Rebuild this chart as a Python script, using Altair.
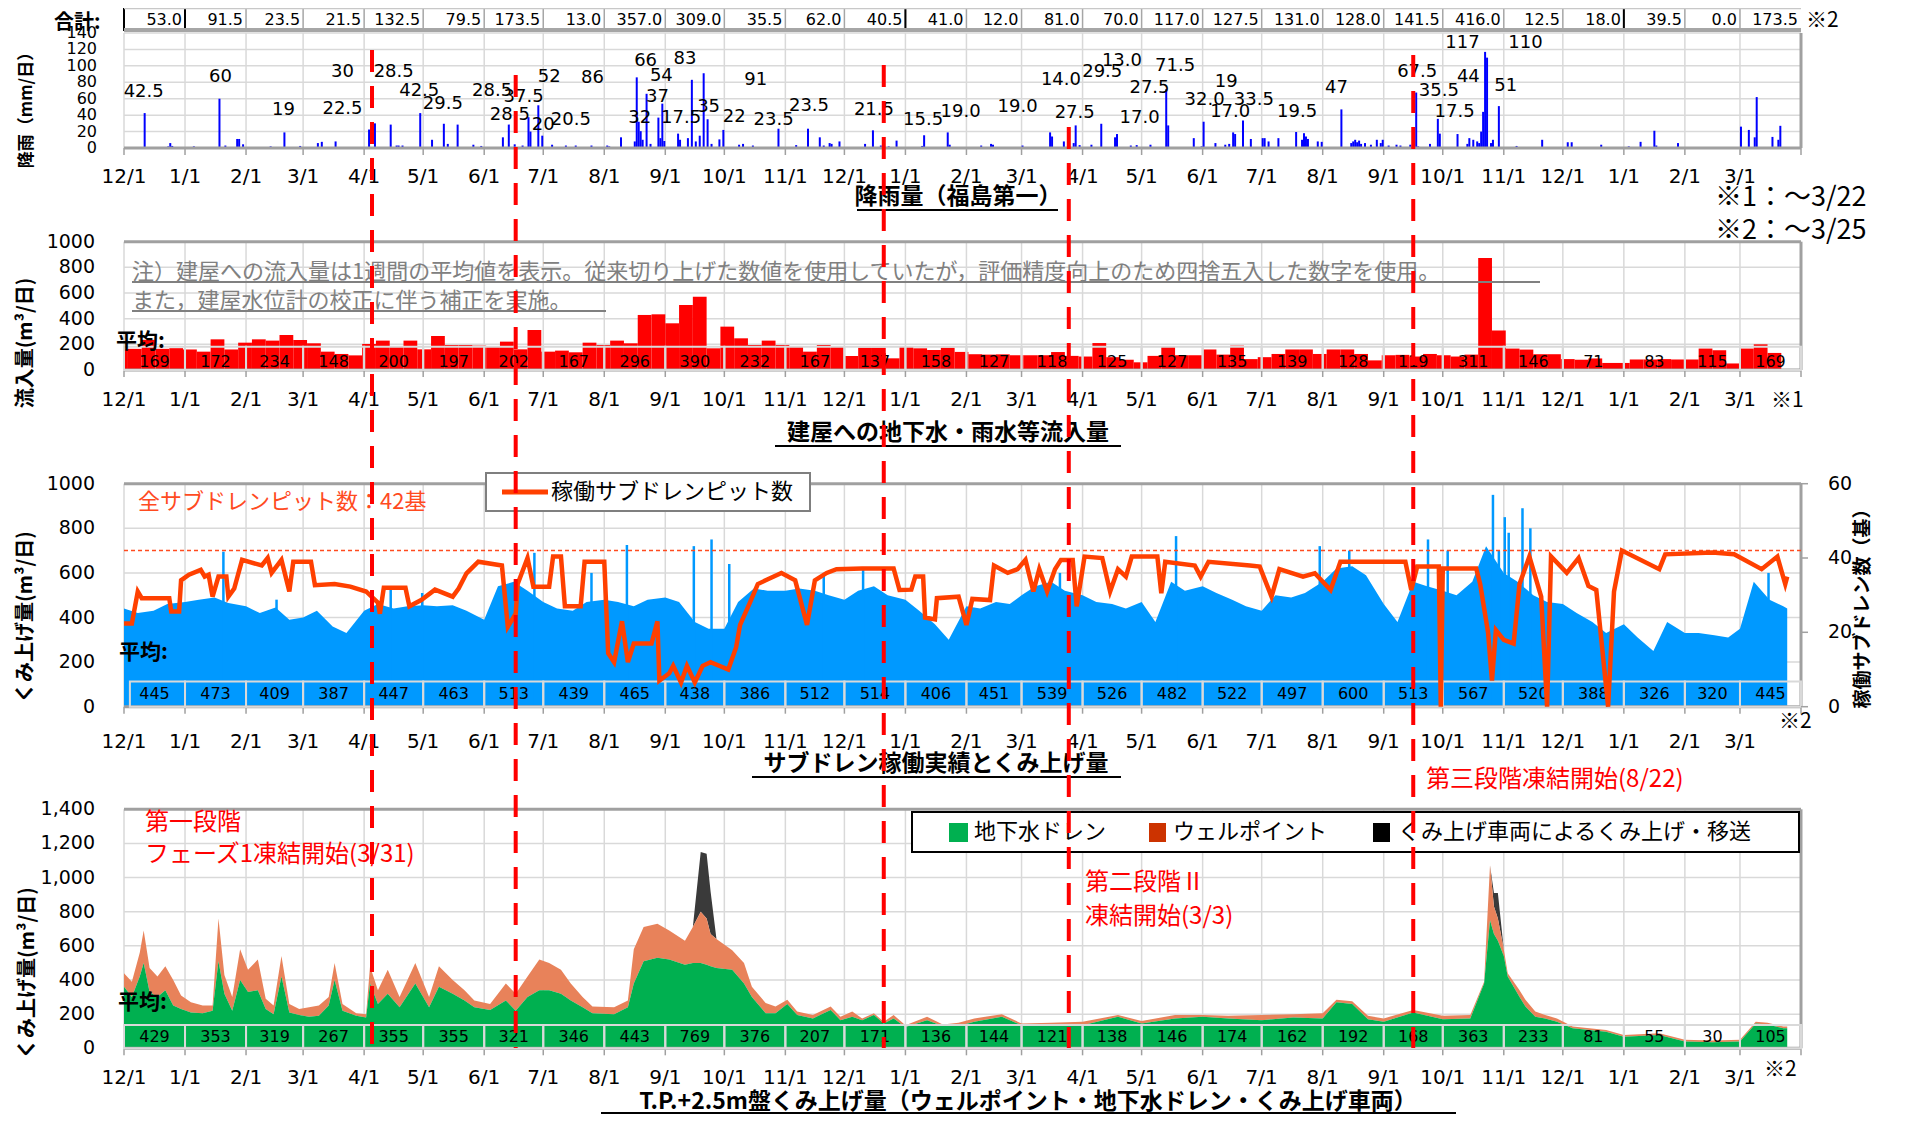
import altair as alt
import pandas as pd

START = pd.Timestamp("2015-12-01")
END_DAY = 852
W, H = 1677, 1107
JP = "Noto Sans CJK JP"
NUM = "DejaVu Sans"


def dn(s):
    return (pd.Timestamp(s) - START).days


# ------------------------------------------------------------------ data
month_labels = ["12/1", "1/1", "2/1", "3/1", "4/1", "5/1", "6/1", "7/1", "8/1", "9/1", "10/1", "11/1",
                "12/1", "1/1", "2/1", "3/1", "4/1", "5/1", "6/1", "7/1", "8/1", "9/1", "10/1", "11/1",
                "12/1", "1/1", "2/1", "3/1"]
month_starts = pd.date_range("2015-12-01", periods=28, freq="MS")

rain_month_totals = [53.0, 91.5, 23.5, 21.5, 132.5, 79.5, 173.5, 13.0, 357.0, 309.0, 35.5, 62.0, 40.5, 41.0,
                     12.0, 81.0, 70.0, 117.0, 127.5, 131.0, 128.0, 141.5, 416.0, 12.5, 18.0, 39.5, 0.0, 173.5]
inflow_month_avg = [169, 172, 234, 148, 200, 197, 202, 167, 296, 390, 232, 167, 137, 158,
                    127, 118, 125, 127, 135, 139, 128, 119, 311, 146, 71, 83, 115, 169]
subdrain_month_avg = [445, 473, 409, 387, 447, 463, 513, 439, 465, 438, 386, 512, 514, 406,
                      451, 539, 526, 482, 522, 497, 600, 513, 567, 520, 388, 326, 320, 445]
tp_month_avg = [429, 353, 319, 267, 355, 355, 321, 346, 443, 769, 376, 207, 171, 136,
                144, 121, 138, 146, 174, 162, 192, 168, 363, 233, 81, 55, 30, 105]

rain_dates = [
    "2015-12-11", "2015-12-23", "2015-12-24", "2015-12-25",
    "2016-01-05", "2016-01-18", "2016-01-21", "2016-01-27", "2016-01-28", "2016-01-30",
    "2016-02-13", "2016-02-20", "2016-02-28",
    "2016-03-08", "2016-03-10", "2016-03-17",
    "2016-04-03", "2016-04-06", "2016-04-14", "2016-04-17", "2016-04-18", "2016-04-20", "2016-04-29",
    "2016-05-05", "2016-05-11", "2016-05-13", "2016-05-18", "2016-05-26", "2016-05-30",
    "2016-06-10", "2016-06-13", "2016-06-16", "2016-06-20", "2016-06-23", "2016-06-24", "2016-06-28", "2016-06-30",
    "2016-07-05", "2016-07-12", "2016-07-17", "2016-07-25",
    "2016-08-02", "2016-08-03", "2016-08-09", "2016-08-16", "2016-08-17", "2016-08-18", "2016-08-19",
    "2016-08-20", "2016-08-22", "2016-08-24", "2016-08-28", "2016-08-29", "2016-08-30", "2016-08-31",
    "2016-09-07", "2016-09-08", "2016-09-12", "2016-09-14", "2016-09-16", "2016-09-18", "2016-09-20",
    "2016-09-22", "2016-09-24", "2016-09-28", "2016-09-30",
    "2016-10-08", "2016-10-10", "2016-10-15", "2016-10-28",
    "2016-11-06", "2016-11-12", "2016-11-18", "2016-11-20", "2016-11-23", "2016-11-24", "2016-11-28",
    "2016-12-11", "2016-12-15", "2016-12-19", "2016-12-23", "2016-12-27",
    "2017-01-09", "2017-01-10", "2017-01-22", "2017-01-23",
    "2017-02-08", "2017-02-13", "2017-02-14",
    "2017-03-01", "2017-03-15", "2017-03-16", "2017-03-22", "2017-03-28", "2017-03-27", "2017-03-30",
    "2017-04-05", "2017-04-10", "2017-04-17", "2017-04-18", "2017-04-25", "2017-04-28",
    "2017-05-05", "2017-05-13", "2017-05-14", "2017-05-27", "2017-05-31",
    "2017-06-01", "2017-06-07", "2017-06-12", "2017-06-14", "2017-06-16", "2017-06-17", "2017-06-21", "2017-06-25",
    "2017-07-01", "2017-07-02", "2017-07-04", "2017-07-09", "2017-07-18", "2017-07-21", "2017-07-22",
    "2017-07-23", "2017-07-24", "2017-07-29", "2017-07-31",
    "2017-08-10", "2017-08-15", "2017-08-16", "2017-08-17", "2017-08-18", "2017-08-19", "2017-08-20",
    "2017-08-22", "2017-08-25", "2017-08-28", "2017-08-30", "2017-08-31",
    "2017-09-03", "2017-09-07", "2017-09-09", "2017-09-14", "2017-09-17", "2017-09-18", "2017-09-24",
    "2017-09-28", "2017-09-29",
    "2017-10-08", "2017-10-13", "2017-10-14", "2017-10-16", "2017-10-18", "2017-10-19", "2017-10-20",
    "2017-10-21", "2017-10-22", "2017-10-23", "2017-10-25", "2017-10-26", "2017-10-29",
    "2017-11-07", "2017-11-20",
    "2017-12-03", "2017-12-05", "2017-12-20",
    "2018-01-03", "2018-01-09", "2018-01-16", "2018-01-17", "2018-01-28",
    "2018-03-01", "2018-03-05", "2018-03-08", "2018-03-09", "2018-03-17", "2018-03-20", "2018-03-21",
]
rain_mm = [
    42.5, 2, 6, 2.5,
    2, 60, 3, 11, 11, 4.5,
    2, 19, 2.5,
    6, 7.5, 8,
    22.5, 30, 28.5, 3, 3, 3, 42.5,
    10, 29.5, 5, 28.5, 4, 2.5,
    13, 28.5, 4.5, 3, 37.5, 20, 52, 15,
    4, 3, 3, 3,
    3, 2, 13, 8, 86, 32, 20.5,
    10, 66, 5, 37, 12, 54, 8.5,
    17.5, 10, 12, 83, 8, 15, 91,
    35, 5, 10.5, 22,
    4, 5, 3, 23.5,
    3.5, 23.5, 13, 3, 6, 5, 8,
    5, 21.5, 3, 2, 9,
    2.5, 15.5, 19, 4,
    3, 5, 4,
    3, 19, 14, 8, 27.5, 6, 3.5,
    4, 29.5, 13, 17, 3, 3.5,
    4, 71.5, 27.5, 12, 2,
    32, 6, 4, 5, 19, 17, 33.5, 11,
    12, 12, 8, 12, 19.5, 10, 18,
    14, 11, 8, 7.5,
    47, 6, 8, 10, 7, 9, 5,
    6, 4, 10, 6, 10,
    3, 4, 3, 4, 67.5, 2, 5,
    35.5, 17.5,
    17, 5, 12, 10, 8, 6, 20,
    44, 117, 110, 6, 10, 51,
    2.5, 10,
    7, 7, 4,
    2, 7.5, 21, 3, 6,
    26, 22, 13, 62, 13.5, 10, 27,
]

rain_label_text = ["42.5", "60", "19", "22.5", "30", "28.5", "42.5", "29.5", "28.5", "37.5", "52", "28.5",
                   "20", "20.5", "86", "66", "83", "54", "37", "32", "17.5", "35", "91", "22", "23.5", "23.5",
                   "21.5", "15.5", "19.0", "19.0", "14.0", "27.5", "29.5", "13.0", "17.0", "27.5", "71.5",
                   "32.0", "19", "17.0", "33.5", "19.5", "47", "67.5", "35.5", "17.5", "44", "117", "110", "51"]
rain_label_date = ["2015-12-11", "2016-01-19", "2016-02-20", "2016-03-21", "2016-03-21", "2016-04-16",
                   "2016-04-29", "2016-05-11", "2016-06-05", "2016-06-21", "2016-07-04", "2016-06-14",
                   "2016-07-01", "2016-07-15", "2016-07-26", "2016-08-22", "2016-09-11", "2016-08-30",
                   "2016-08-28", "2016-08-19", "2016-09-09", "2016-09-23", "2016-10-17", "2016-10-06",
                   "2016-10-26", "2016-11-13", "2016-12-16", "2017-01-10", "2017-01-29", "2017-02-27",
                   "2017-03-21", "2017-03-28", "2017-04-11", "2017-04-21", "2017-04-30", "2017-05-05",
                   "2017-05-18", "2017-06-02", "2017-06-13", "2017-06-15", "2017-06-27", "2017-07-19",
                   "2017-08-08", "2017-09-18", "2017-09-29", "2017-10-07", "2017-10-14", "2017-10-11",
                   "2017-11-12", "2017-11-02"]
rain_label_mm = [68, 86, 46, 47, 93, 93, 70, 54, 70, 62, 87, 40, 28, 34, 85, 106, 108, 88, 62, 36, 36, 50, 83,
                 38, 34, 51, 46, 34, 44, 50, 83, 43, 93, 106, 36, 73, 100, 58, 80, 44, 58, 44, 73, 93, 70, 44,
                 87, 128, 128, 76]

# weekly inflow (weeks ending Thursdays 2015-12-03 ... 2018-03-22)
inflow_weekly = [
    160, 165, 235, 165, 170,
    160, 143, 239, 160,
    213, 239, 229, 273,
    234, 208, 143, 125, 114,
    203, 229, 187, 229,
    161, 265, 195, 195,
    190, 182, 221, 161, 312,
    143, 151, 138, 213,
    195, 229, 208, 429,
    434, 364, 506, 571, 169,
    338, 247, 195, 229,
    195, 182, 143, 195,
    182, 109, 174, 174, 91,
    182, 169, 156, 174,
    141, 123, 120, 122,
    115, 115, 115, 140, 110,
    105, 210, 100, 80,
    60, 110, 180, 115,
    115, 160, 120, 190, 85,
    100, 125, 160, 160,
    125, 160, 160, 125, 75,
    115, 118, 105, 125,
    115, 105, 120, 872,
    308, 167, 159, 123, 123,
    85, 80, 90, 55,
    55, 82, 82, 85,
    82, 82, 167, 154,
    51, 167, 200, 133,
]

# sub-drain pumping, read at day 1, 8, 16, 23 of every month (+ 3/25/2018)
subdrain_values = [
    440, 420, 430, 460,
    470, 480, 490, 465,
    450, 420, 445, 390,
    400, 430, 360, 330,
    430, 460, 440, 450,
    455, 450, 455, 430,
    390, 540, 560, 520,
    470, 440, 430, 470,
    480, 470, 450, 480,
    490, 470, 380, 350,
    350, 470, 530, 520,
    520, 530, 520, 500,
    480, 520, 540, 500,
    480, 430, 370, 300,
    450, 440, 470, 460,
    500, 540, 560, 520,
    500, 470, 460, 440,
    470, 380, 560, 520,
    540, 510, 480, 450,
    430, 500, 490, 510,
    560, 620, 630, 590,
    460, 380, 560, 540,
    520, 500, 560, 720,
    600, 560, 500, 470,
    460, 420, 380, 330,
    370, 310, 250, 380,
    330, 330, 320, 310,
    350, 560, 480, 450,
    440,
]
subdrain_spike_dates = ["2016-01-20", "2016-02-16", "2016-04-14", "2016-04-30", "2016-06-26", "2016-07-25",
                        "2016-08-12", "2016-09-15", "2016-09-24", "2016-10-03", "2016-11-20", "2016-12-10",
                        "2017-03-20", "2017-05-18", "2017-07-30", "2017-08-14", "2017-09-23", "2017-10-03",
                        "2017-10-26", "2017-10-29", "2017-11-01", "2017-11-03", "2017-11-10", "2017-11-14",
                        "2018-03-15"]
subdrain_spike_values = [695, 480, 530, 510, 690, 600, 725, 720, 750, 640, 600, 620,
                         600, 765, 720, 700, 750, 700, 950, 700, 850, 780, 890, 800, 600]

pit_dates = [
    "2015-12-01", "2015-12-05", "2015-12-08", "2015-12-10", "2015-12-24", "2015-12-25", "2015-12-29",
    "2015-12-30", "2016-01-03", "2016-01-09", "2016-01-11", "2016-01-13", "2016-01-15", "2016-01-18",
    "2016-01-22", "2016-01-23", "2016-01-26", "2016-01-30", "2016-02-09", "2016-02-12", "2016-02-14",
    "2016-02-19", "2016-02-23", "2016-02-25", "2016-03-05", "2016-03-07", "2016-03-17", "2016-03-25",
    "2016-04-02", "2016-04-08", "2016-04-09", "2016-04-11", "2016-04-22", "2016-04-24", "2016-04-30",
    "2016-05-07", "2016-05-16", "2016-05-19", "2016-05-23", "2016-05-29", "2016-06-10", "2016-06-13",
    "2016-06-17", "2016-06-18", "2016-06-23", "2016-06-26", "2016-07-04", "2016-07-06", "2016-07-10",
    "2016-07-12", "2016-07-20", "2016-07-22", "2016-08-01", "2016-08-03", "2016-08-06", "2016-08-10",
    "2016-08-13", "2016-08-16", "2016-08-25", "2016-08-28", "2016-08-29", "2016-09-03", "2016-09-05",
    "2016-09-09", "2016-09-12", "2016-09-16", "2016-09-20", "2016-09-24", "2016-10-03", "2016-10-07",
    "2016-10-09", "2016-10-14", "2016-10-18", "2016-10-22", "2016-10-30", "2016-11-06", "2016-11-12",
    "2016-11-16", "2016-11-22", "2016-11-27", "2016-12-10", "2016-12-26", "2016-12-29", "2017-01-04",
    "2017-01-06", "2017-01-10", "2017-01-11", "2017-01-16", "2017-01-17", "2017-01-28", "2017-02-01",
    "2017-02-04", "2017-02-13", "2017-02-15", "2017-02-22", "2017-02-27", "2017-03-03", "2017-03-07",
    "2017-03-10", "2017-03-14", "2017-03-18", "2017-03-21", "2017-03-27", "2017-03-29", "2017-04-02",
    "2017-04-11", "2017-04-15", "2017-04-19", "2017-04-23", "2017-04-26", "2017-05-09", "2017-05-11",
    "2017-05-13", "2017-05-28", "2017-05-31", "2017-06-04", "2017-06-25", "2017-06-30", "2017-07-06",
    "2017-07-10", "2017-07-22", "2017-07-28", "2017-08-05", "2017-08-10", "2017-09-12", "2017-09-15",
    "2017-09-18", "2017-09-29", "2017-09-30", "2017-10-01", "2017-10-18", "2017-10-20", "2017-10-24",
    "2017-10-26", "2017-10-28", "2017-11-01", "2017-11-06", "2017-11-09", "2017-11-14", "2017-11-20",
    "2017-11-23", "2017-11-25", "2017-12-03", "2017-12-09", "2017-12-14", "2017-12-18", "2017-12-24",
    "2017-12-27", "2017-12-31", "2018-01-19", "2018-01-22", "2018-02-15", "2018-02-26", "2018-03-12",
    "2018-03-20", "2018-03-24", "2018-03-25",
]
pit_counts = [
    22.4, 22.4, 31, 29.2, 29.2, 25.6, 25.6,
    34, 35.5, 36.8, 35, 35.5, 29.6, 35,
    35, 29.6, 31.8, 39.5, 38, 40, 36,
    39.5, 31, 39, 39, 32.7, 33, 32.3,
    31, 28, 25, 32, 32, 27, 28.7,
    31.5, 29.6, 31.8, 35.9, 39, 38, 21.5,
    25, 33, 40, 32.3, 32.3, 40.4, 40.4,
    27, 27, 39, 39, 14.4, 12, 23,
    12, 17, 17, 23, 7, 9, 11,
    6.5, 11, 6.5, 11, 12, 10, 16,
    22, 28, 33, 34, 36, 34, 22,
    34, 36, 37, 37.2, 37.2, 31.4, 31.5,
    35, 35, 24, 23.5, 29.2, 29.6, 22,
    29, 28.7, 38, 36, 37, 39.5, 31,
    37, 31, 37, 39.5, 39.5, 27, 40.4,
    40, 31, 37, 35, 40.4, 40.4, 30.5,
    39, 38, 35, 39, 38, 37.7, 29.6,
    37, 35, 35.9, 31.4, 39, 39, 31.4,
    37.7, 37.7, 0, 37.2, 37.2, 33, 20,
    7, 20.6, 18, 17, 33, 40.4, 29.6,
    0, 40.4, 36, 40, 32.5, 31.4, 0,
    31, 42, 37, 41, 41.5, 41, 37,
    40.4, 33, 35,
]

tp_dates = [
    "2015-12-01", "2015-12-05", "2015-12-09", "2015-12-11", "2015-12-14", "2015-12-18", "2015-12-22",
    "2015-12-26", "2015-12-30", "2016-01-04", "2016-01-10", "2016-01-15", "2016-01-18", "2016-01-21",
    "2016-01-25", "2016-01-29", "2016-02-02", "2016-02-07", "2016-02-11", "2016-02-15", "2016-02-19",
    "2016-02-23", "2016-02-28", "2016-03-04", "2016-03-09", "2016-03-14", "2016-03-17", "2016-03-21",
    "2016-03-28", "2016-04-02", "2016-04-04", "2016-04-08", "2016-04-13", "2016-04-19", "2016-04-27",
    "2016-05-04", "2016-05-09", "2016-05-16", "2016-05-22", "2016-05-27", "2016-06-04", "2016-06-12",
    "2016-06-17", "2016-06-23", "2016-06-29", "2016-07-04", "2016-07-10", "2016-07-15", "2016-07-21",
    "2016-07-26", "2016-08-06", "2016-08-13", "2016-08-16", "2016-08-21", "2016-08-28", "2016-09-03",
    "2016-09-11", "2016-09-15", "2016-09-19", "2016-09-22", "2016-09-24", "2016-09-27", "2016-10-05",
    "2016-10-11", "2016-10-15", "2016-10-22", "2016-10-27", "2016-11-02", "2016-11-07", "2016-11-15",
    "2016-11-24", "2016-11-29", "2016-12-05", "2016-12-10", "2016-12-16", "2016-12-21", "2016-12-26",
    "2017-01-01", "2017-01-12", "2017-01-20", "2017-01-28", "2017-02-05", "2017-02-19", "2017-03-01",
    "2017-03-16", "2017-04-01", "2017-04-19", "2017-05-01", "2017-05-18", "2017-06-01", "2017-06-14",
    "2017-07-01", "2017-07-17", "2017-08-01", "2017-08-08", "2017-08-16", "2017-08-24", "2017-09-01",
    "2017-09-16", "2017-10-01", "2017-10-15", "2017-10-22", "2017-10-25", "2017-10-27", "2017-10-29",
    "2017-11-01", "2017-11-03", "2017-11-09", "2017-11-12", "2017-11-17", "2017-11-22", "2017-11-28",
    "2017-12-06", "2017-12-23", "2018-01-01", "2018-01-19", "2018-02-01", "2018-02-15", "2018-03-01",
    "2018-03-09", "2018-03-15", "2018-03-23", "2018-03-25",
]
tp_drain = [
    360, 300, 420, 500, 330, 300, 340, 250, 230, 210, 205, 220, 510, 320, 220, 400, 330, 340, 230, 200,
    420, 210, 195, 185, 190, 250, 400, 220, 190, 180, 380, 260, 320, 240, 380, 240, 360, 320, 280, 240,
    225, 280, 220, 300, 340, 340, 320, 280, 240, 205, 200, 240, 380, 510, 530, 520, 490, 500, 500, 490,
    480, 470, 460, 380, 300, 205, 205, 260, 195, 175, 225, 165, 185, 165, 195, 145, 175, 125, 165, 130,
    130, 155, 185, 135, 135, 135, 185, 145, 175, 185, 175, 165, 180, 175, 270, 260, 170, 155, 210, 170,
    175, 380, 750, 670, 630, 540, 420, 300, 245, 185, 175, 155, 117, 97, 68, 78, 40, 35, 40, 146,
    140, 117, 117,
]
tp_top = [  # top of the well-point (orange) stack
    440, 390, 560, 690, 470, 420, 480, 400, 310, 270, 250, 250, 760, 430, 300, 580, 460, 520, 290, 250,
    540, 260, 230, 240, 250, 300, 500, 260, 205, 200, 480, 340, 460, 300, 500, 300, 480, 400, 340, 280,
    260, 380, 320, 420, 520, 500, 460, 380, 300, 245, 240, 280, 580, 710, 730, 690, 630, 710, 800, 760,
    670, 640, 575, 500, 360, 265, 245, 285, 215, 195, 245, 185, 215, 175, 205, 155, 195, 135, 185, 140,
    150, 175, 200, 145, 150, 155, 195, 160, 195, 195, 190, 195, 200, 205, 285, 275, 190, 175, 225, 190,
    195, 390, 1072, 830, 760, 580, 440, 340, 285, 215, 195, 175, 127, 107, 78, 88, 50, 45, 50, 156,
    150, 127, 127,
]
truck_dates = ["2016-09-19", "2016-09-22", "2016-09-24", "2017-10-27", "2017-10-29"]
truck_values = [350, 380, 250, 80, 150]

freeze_dates = ["2016-04-05", "2016-06-17", "2016-12-21", "2017-03-25", "2017-09-16"]
freeze_tops = [42, 67, 57, 119, 47]

# ------------------------------------------------------------------ helpers
XS = alt.Scale(domain=[0, END_DAY], nice=False, zero=False)
RAIN = ([0, 140], [140, 25])
INF = ([0, 1000], [362, 233.7])
SUB = ([0, 1000], [698.7, 475.7])
PIT = ([0, 60], [698.7, 475.7])
TPS = ([0, 1400], [1040.3, 801.3])


def X(f="d"):
    return alt.X(f"{f}:Q", scale=XS, axis=None)


def Y(f, sc):
    return alt.Y(f"{f}:Q", scale=alt.Scale(domain=sc[0], range=sc[1], nice=False, zero=False), axis=None)


def px_rules(rows, **mk):
    df = pd.DataFrame(rows, columns=["x1", "x2", "y1", "y2"])
    return alt.Chart(df).mark_rule(**mk).encode(
        x=alt.X("x1:Q", scale=None, axis=None), x2="x2:Q",
        y=alt.Y("y1:Q", scale=None, axis=None), y2="y2:Q")


def px_rects(rows, **mk):
    df = pd.DataFrame(rows, columns=["x1", "x2", "y1", "y2"])
    return alt.Chart(df).mark_rect(**mk).encode(
        x=alt.X("x1:Q", scale=None, axis=None), x2="x2:Q",
        y=alt.Y("y1:Q", scale=None, axis=None), y2="y2:Q")


def px_texts(rows, **mk):
    df = pd.DataFrame(rows, columns=["px", "py", "t"])
    return alt.Chart(df).mark_text(**mk).encode(
        x=alt.X("px:Q", scale=None, axis=None), y=alt.Y("py:Q", scale=None, axis=None), text="t:N")


layers = []
md = [dn(m) for m in month_starts]
cells = pd.DataFrame({"d0": md, "d1": md[1:] + [END_DAY]})
cells["dc"] = (cells.d0 + cells.d1) / 2

# ------------------------------------------------------------------ grid
vg = pd.DataFrame({"d": md})
for top, bot in [(25, 140), (233.7, 362), (475.7, 698.7), (801.3, 1040.3)]:
    layers.append(alt.Chart(vg).mark_rule(color="#D9D9D9", strokeWidth=1.5).encode(
        x=X(), y=alt.value(top), y2=alt.value(bot)))


def hgrid(vals, sc, **mk):
    kw = dict(color="#D9D9D9", strokeWidth=1.5)
    kw.update(mk)
    return alt.Chart(pd.DataFrame({"v": vals})).mark_rule(**kw).encode(
        y=Y("v", sc), x=alt.value(0), x2=alt.value(W))


layers += [hgrid(list(range(20, 141, 20)), RAIN), hgrid([200, 400, 600, 800], INF),
           hgrid([200, 400, 600, 800], SUB), hgrid(list(range(200, 1201, 200)), TPS)]

# ------------------------------------------------------------------ panel 1: rain
rain_df = pd.DataFrame({"d": [dn(s) + 0.5 for s in rain_dates], "v": rain_mm, "z": 0.0})
layers.append(alt.Chart(rain_df).mark_rule(color="#0000FF", strokeWidth=2).encode(
    x=X(), y=Y("v", RAIN), y2="z:Q"))
rl_df = pd.DataFrame({"d": [dn(s) for s in rain_label_date], "v": rain_label_mm, "t": rain_label_text})
layers.append(alt.Chart(rl_df).mark_text(font=NUM, fontSize=18, color="black").encode(
    x=X(), y=Y("v", RAIN), text="t:N"))

# totals row
tot_df = cells.copy()
tot_df["t"] = [f"{v:.1f}" for v in rain_month_totals]
layers.append(alt.Chart(tot_df).mark_rule(color="#A6A6A6", strokeWidth=1.5).encode(
    x=X("d0"), y=alt.value(0), y2=alt.value(23)))
layers.append(alt.Chart(tot_df).mark_text(font=NUM, fontSize=16, align="right", dx=-3, color="black").encode(
    x=X("d1"), y=alt.value(12), text="t:N"))
ybound = pd.DataFrame({"d": [0, dn("2016-01-01"), dn("2017-01-01"), dn("2018-01-01")]})
layers.append(alt.Chart(ybound).mark_rule(color="black", strokeWidth=2).encode(
    x=X(), y=alt.value(0), y2=alt.value(23)))

# ------------------------------------------------------------------ panel 2: inflow
wk_end = pd.date_range("2015-12-03", periods=len(inflow_weekly), freq="7D")
inf_df = pd.DataFrame({"d1": [dn(e) for e in wk_end], "v": inflow_weekly})
inf_df["d0"] = (inf_df.d1 - 7).clip(lower=0)
inf_df["z"] = 0.0
layers.append(alt.Chart(inf_df).mark_rect(color="#FF0000").encode(
    x=X("d0"), x2="d1:Q", y=Y("v", INF), y2="z:Q"))

# ------------------------------------------------------------------ panel 3: subdrain
sub_dates = [m + pd.Timedelta(days=o) for m in month_starts for o in (0, 7, 15, 22)] + [pd.Timestamp("2018-03-25")]
sub_df = pd.DataFrame({"d": [dn(s) for s in sub_dates], "v": subdrain_values, "z": 0.0})
layers.append(alt.Chart(sub_df).mark_area(color="#0099FF", opacity=1).encode(
    x=X(), y=Y("v", SUB), y2="z:Q"))
sp_df = pd.DataFrame({"d": [dn(s) + 0.5 for s in subdrain_spike_dates], "v": subdrain_spike_values, "z": 0.0})
layers.append(alt.Chart(sp_df).mark_rule(color="#0099FF", strokeWidth=2.5).encode(
    x=X(), y=Y("v", SUB), y2="z:Q"))

# ------------------------------------------------------------------ panel 4: T.P.+2.5m
truck_map = dict(zip(truck_dates, truck_values))
tp_df = pd.DataFrame({"d": [dn(s) for s in tp_dates], "g": tp_drain, "t": tp_top})
tp_df["b"] = tp_df["t"] + [truck_map.get(s, 0) for s in tp_dates]
tp_df["z"] = 0.0
layers.append(alt.Chart(tp_df).mark_area(color="#3A3A3A").encode(x=X(), y=Y("b", TPS), y2="t:Q"))
layers.append(alt.Chart(tp_df).mark_area(color="#E8825A").encode(x=X(), y=Y("t", TPS), y2="g:Q"))
layers.append(alt.Chart(tp_df).mark_area(color="#00B050").encode(x=X(), y=Y("g", TPS), y2="z:Q"))

# ------------------------------------------------------------------ axes lines / borders
layers.append(px_rules([
    (0, W, 140, 140), (W, W, 25, 140),
    (0, W, 233.7, 233.7), (0, W, 362, 362), (W, W, 233.7, 362),
    (0, W, 475.7, 475.7), (0, W, 698.7, 698.7), (W, W, 475.7, 698.7),
    (0, W, 801.3, 801.3), (0, W, 1040.3, 1040.3), (W, W, 801.3, 1040.3),
], color="#A0A0A0", strokeWidth=3))
layers.append(px_rules([(0, W, 0.5, 0.5)], color="#C8C8C8", strokeWidth=1.5))
layers.append(px_rules([(0, W, 22, 22)], color="#A6A6A6", strokeWidth=4))
for y0 in (140, 362, 698.7, 1040.3):
    layers.append(alt.Chart(pd.DataFrame({"d": md + [END_DAY]})).mark_rule(color="#A0A0A0", strokeWidth=1.5).encode(
        x=X(), y=alt.value(y0), y2=alt.value(y0 + 7)))

# ------------------------------------------------------------------ average rows
for top, bot, vals, ytxt, d0shift in [(338.7, 362, inflow_month_avg, 353.5, 0),
                                      (673.5, 698.7, subdrain_month_avg, 686, 3),
                                      (1017, 1040.3, tp_month_avg, 1029, 0)]:
    c = cells.copy()
    c["d0"] = c["d0"].clip(lower=d0shift)
    c["t"] = [str(v) for v in vals]
    layers.append(alt.Chart(c).mark_rect(fillOpacity=0, stroke="#D9D9D9", strokeWidth=2).encode(
        x=X("d0"), x2="d1:Q", y=alt.value(top), y2=alt.value(bot)))
    layers.append(alt.Chart(c).mark_text(font=NUM, fontSize=16, color="black").encode(
        x=X("dc"), y=alt.value(ytxt), text="t:N"))

# pit count line + 42 line (drawn over the average rows)
layers.append(hgrid([42], PIT, color="#FF4B1F", strokeDash=[4, 3], strokeWidth=1.5))
pit_df = pd.DataFrame({"d": [dn(s) for s in pit_dates], "p": pit_counts})
layers.append(alt.Chart(pit_df).mark_line(color="#FF4000", strokeWidth=4.5).encode(x=X(), y=Y("p", PIT)))

# ------------------------------------------------------------------ tick labels
for py in (169, 392, 733.7, 1070):
    ml = pd.DataFrame({"d": md, "t": month_labels})
    layers.append(alt.Chart(ml).mark_text(font=NUM, fontSize=20, color="black").encode(
        x=X(), y=alt.value(py), text="t:N"))


def ylabels(vals, sc, xpx, fmt, size, align="right"):
    df = pd.DataFrame({"v": vals, "t": [fmt(v) for v in vals]})
    return alt.Chart(df).mark_text(font=NUM, fontSize=size, align=align, color="black").encode(
        y=Y("v", sc), x=alt.value(xpx), text="t:N")


layers += [
    ylabels(list(range(0, 141, 20)), RAIN, -27, str, 16),
    ylabels(list(range(0, 1001, 200)), INF, -29, str, 19),
    ylabels(list(range(0, 1001, 200)), SUB, -29, str, 19),
    ylabels(list(range(0, 1401, 200)), TPS, -29, lambda v: f"{v:,}", 19),
    ylabels([0, 20, 40, 60], PIT, 1704, str, 19, align="left"),
]
layers.append(px_rules([(W, W + 7, y, y) for y in (475.7, 550.0, 624.3, 698.7)], color="#A0A0A0", strokeWidth=1.5))

# ------------------------------------------------------------------ texts
layers.append(px_texts([(-70, 15, "合計:")],
                       font=JP, fontSize=20, fontWeight="bold", align="left", baseline="middle", color="black"))
layers.append(px_texts([(-8, 333.7, "平均:"), (-5, 645, "平均:"), (-6, 995, "平均:")],
                       font=JP, fontSize=21, fontWeight="bold", align="left", baseline="middle", color="black"))
layers.append(px_texts([(-97, 98, "降雨（mm/日）")], font=JP, fontSize=17, fontWeight="bold",
                       angle=270, baseline="middle", color="black"))
layers.append(px_texts([(-98, 335, "流入量(m³/日)"), (-98, 609, "くみ上げ量(m³/日)"),
                        (-96, 965, "くみ上げ量(m³/日)")], font=JP, fontSize=20, fontWeight="bold",
                       angle=270, baseline="middle", color="black"))
layers.append(px_texts([(1739, 596, "稼働サブドレン数（基）")], font=JP, fontSize=19, fontWeight="bold",
                       angle=270, baseline="middle", color="black"))
layers.append(px_texts([(834, 189, "降雨量（福島第一）"), (824, 425, "建屋への地下水・雨水等流入量"),
                        (812, 756, "サブドレン稼働実績とくみ上げ量"),
                        (904, 1094, "T.P.+2.5m盤くみ上げ量（ウェルポイント・地下水ドレン・くみ上げ車両）")],
                       font=JP, fontSize=23, fontWeight="bold", baseline="middle", color="black"))
layers.append(px_rules([(733, 934, 202, 202), (651, 997, 438, 438), (628, 997, 769, 769), (477, 1332, 1105, 1105)],
                       color="black", strokeWidth=2))
# note
layers.append(px_texts([(8, 271, "注）建屋への流入量は1週間の平均値を表示。従来切り上げた数値を使用していたが，評価精度向上のため四捨五入した数字を使用。"),
                        (8, 300, "また，建屋水位計の校正に伴う補正を実施。")],
                       font=JP, fontSize=22, align="left", baseline="alphabetic", color="#808080"))
layers.append(px_rules([(8, 1416, 274, 274), (8, 482, 303, 303)], color="#808080", strokeWidth=2))
# footnotes
layers.append(px_texts([(1591, 190, "※1：～3/22"), (1591, 223, "※2：～3/25")], font=JP, fontSize=27,
                       align="left", baseline="middle", color="black"))
layers.append(px_texts([(1682, 13, "※2"), (1647, 393, "※1"), (1655, 714, "※2"), (1640, 1062, "※2")],
                       font=JP, fontSize=21, align="left", baseline="middle", color="black"))
# panel-3 annotations & legend
layers.append(px_texts([(14, 494, "全サブドレンピット数：42基")], font=JP, fontSize=22, align="left",
                       baseline="middle", color="#FF4B1F"))
layers.append(px_rects([(362, 686, 465, 503)], fill="white", stroke="#7F7F7F", strokeWidth=2))
layers.append(px_rules([(378, 424, 484, 484)], color="#FF4000", strokeWidth=5))
layers.append(px_texts([(427, 484, "稼働サブドレンピット数")], font=JP, fontSize=22, align="left",
                       baseline="middle", color="black"))
# panel-4 legend
layers.append(px_rects([(788, 1675, 804, 844)], fill="white", stroke="black", strokeWidth=2))
layers.append(px_rects([(825, 844, 815, 834)], fill="#00B050"))
layers.append(px_rects([(1025, 1042, 815, 834)], fill="#CC3300"))
layers.append(px_rects([(1249, 1266, 815, 834)], fill="black"))
layers.append(px_texts([(850, 824, "地下水ドレン"), (1049, 824, "ウェルポイント"),
                        (1274, 824, "くみ上げ車両によるくみ上げ・移送")], font=JP, fontSize=22, align="left",
                       baseline="middle", color="black"))
# red stage annotations
layers.append(px_texts([(21, 815, "第一段階"), (21, 847, "フェーズ1凍結開始(3/31)"),
                        (961, 875, "第二段階Ⅱ"), (961, 909, "凍結開始(3/3)"),
                        (1302, 772, "第三段階凍結開始(8/22)")], font=JP, fontSize=24, align="left",
                       baseline="middle", color="#FF0000"))

# ------------------------------------------------------------------ freeze lines (on top)
fz = pd.DataFrame({"d": [dn(s) for s in freeze_dates], "y1": freeze_tops, "y2": [1040] * len(freeze_dates)})
layers.append(alt.Chart(fz).mark_rule(color="#FF0000", strokeWidth=4, strokeDash=[22, 14]).encode(
    x=X(), y=alt.Y("y1:Q", scale=None, axis=None), y2="y2:Q"))

chart = alt.layer(*layers).resolve_scale(x="independent", y="independent").properties(
    width=W, height=H,
    autosize=alt.AutoSizeParams(type="none"),
    padding={"left": 116, "top": 0, "right": 98, "bottom": 0},
).configure_view(stroke="transparent")

chart.save("out.html", embed_options={"renderer": "svg", "actions": False})
